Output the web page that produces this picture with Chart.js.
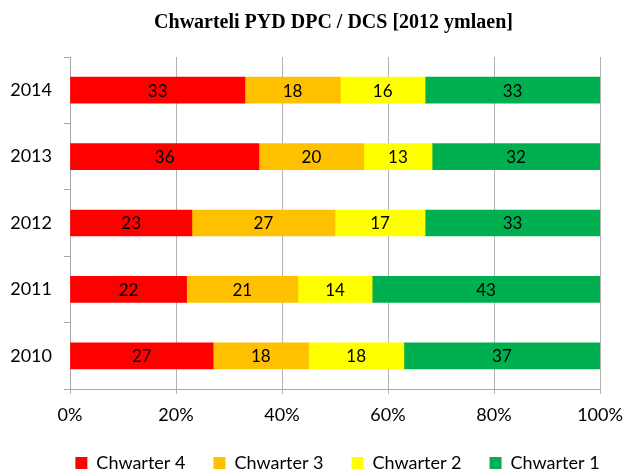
<!DOCTYPE html>
<html>
<head>
<meta charset="utf-8">
<script src="https://cdn.jsdelivr.net/npm/chart.js@4"></script>
<style>
  html, body { margin: 0; padding: 0; background: #fff; }
  #wrap { width: 623px; height: 470px; }
</style>
</head>
<body>
<div id="wrap"><canvas id="chart"></canvas></div>
<script>
const years = ["2014", "2013", "2012", "2011", "2010"];
const seriesNames = ["Chwarter 4", "Chwarter 3", "Chwarter 2", "Chwarter 1"];
const seriesColors = ["#FF0000", "#FFC000", "#FFFF00", "#00B050"];
const chwarter4 = [33, 36, 23, 22, 27];
const chwarter3 = [18, 20, 27, 21, 18];
const chwarter2 = [16, 13, 17, 14, 18];
const chwarter1 = [33, 32, 33, 43, 37];
const xTicks = ["0%", "20%", "40%", "60%", "80%", "100%"];

const raw = [chwarter4, chwarter3, chwarter2, chwarter1];
// 100% stacked: share of each row total
const totals = years.map((y, i) => raw.reduce((s, arr) => s + arr[i], 0));

const datasets = raw.map((arr, k) => ({
    label: seriesNames[k],
    backgroundColor: seriesColors[k],
    borderWidth: 0,
    data: arr.map((v, i) => v / totals[i] * 100),
    rawValues: arr,
    barThickness: 26
}));

const labelPlugin = {
    id: "barLabels",
    afterDatasetsDraw(chart) {
        const ctx = chart.ctx;
        ctx.save();
        ctx.font = "17px Lato";
        ctx.fillStyle = "#000";
        ctx.textAlign = "center";
        ctx.textBaseline = "middle";
        chart.data.datasets.forEach((ds, k) => {
            chart.getDatasetMeta(k).data.forEach((bar, i) => {
                ctx.fillText(ds.rawValues[i], (bar.x + bar.base) / 2, bar.y + 1);
            });
        });
        ctx.restore();
    }
};

// short legend box, title and legend centred a bit right of the canvas middle
const boxPlugin = {
    id: "boxFit",
    beforeInit(chart) {
        const fit = chart.legend.fit;
        chart.legend.fit = function () {
            fit.call(this);
            this.height = 44;
        };
    },
    afterLayout(chart) {
        chart.legend.left += 26;
        chart.legend.right += 26;
        chart.titleBlock.left += 22;
        chart.titleBlock.right += 22;
    }
};

new Chart(document.getElementById("chart"), {
    type: 'bar',
    data: { labels: years, datasets: datasets },
    plugins: [labelPlugin, boxPlugin],
    options: {
        indexAxis: 'y',
        responsive: true,
        maintainAspectRatio: false,
        animation: false,
        layout: { padding: 0 },
        scales: {
            x: {
                stacked: true,
                min: 0,
                max: 100,
                afterFit(scale) {
                    scale.height = 37;
                    scale.paddingLeft = 0;
                    scale.paddingRight = 23;
                },
                border: { color: "#A6A6A6" },
                grid: { color: "#B3B3B3", drawTicks: true, tickLength: 5 },
                ticks: {
                    stepSize: 20,
                    padding: 10,
                    color: "#000",
                    font: { family: "Lato", size: 18 },
                    callback: (v, i) => xTicks[i]
                }
            },
            y: {
                stacked: true,
                afterFit(scale) { scale.width = 70; },
                border: { color: "#A6A6A6" },
                grid: { drawOnChartArea: false, offset: true, tickLength: 6, color: "#A6A6A6" },
                ticks: { color: "#000", padding: 12, font: { family: "Lato", size: 18 } }
            }
        },
        plugins: {
            title: {
                display: true,
                text: "Chwarteli PYD DPC / DCS [2012 ymlaen]",
                color: "#000",
                font: { family: "Liberation Serif", size: 20, weight: "bold" },
                padding: { top: 11, bottom: 22 }
            },
            legend: {
                position: 'bottom',
                labels: {
                    boxWidth: 12,
                    boxHeight: 12,
                    padding: 28,
                    color: "#000",
                    font: { family: "Lato", size: 18 }
                }
            },
            tooltip: { enabled: false }
        }
    }
});
</script>
</body>
</html>
